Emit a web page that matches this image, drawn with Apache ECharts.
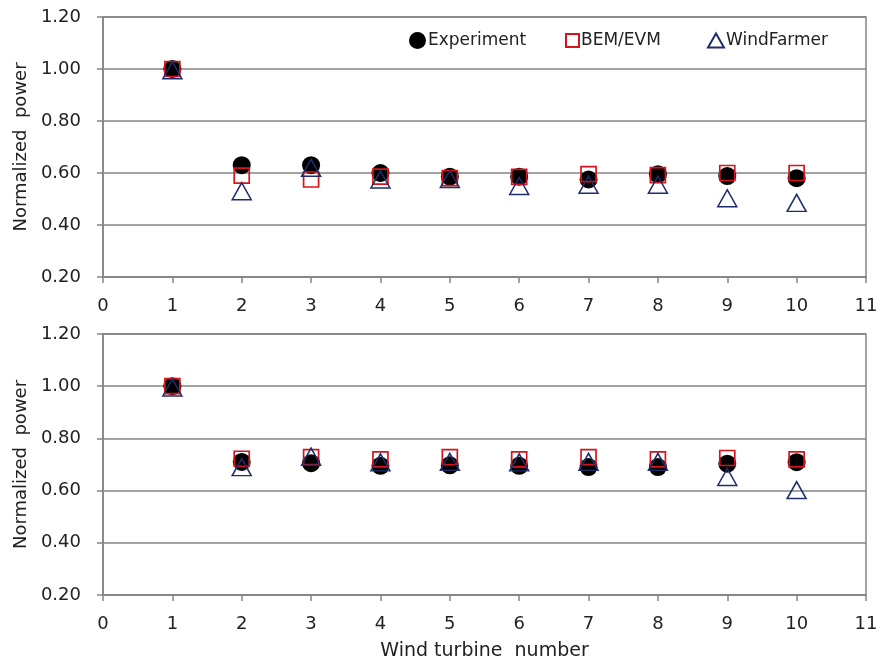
<!DOCTYPE html>
<html>
<head>
<meta charset="utf-8">
<script src="https://cdn.jsdelivr.net/npm/echarts@6/dist/echarts.min.js"></script>
<style>
  html, body { margin: 0; padding: 0; background: #fff; }
  #chart { width: 881px; height: 663px; }
</style>
</head>
<body>
<div id="chart"></div>
<script>
// Turbine positions along the row
const turbines = [1, 2, 3, 4, 5, 6, 7, 8, 9, 10];

// Upper panel: normalized power per turbine
const expTop = [1.00, 0.63, 0.63, 0.60, 0.586, 0.586, 0.575, 0.595, 0.588, 0.58];
const bemTop = [1.00, 0.59, 0.575, 0.586, 0.58, 0.585, 0.596, 0.592, 0.60, 0.60];
const wfTop  = [0.995, 0.53, 0.62, 0.575, 0.577, 0.55, 0.555, 0.555, 0.503, 0.485];

// Lower panel: normalized power per turbine
const expBot = [1.00, 0.71, 0.705, 0.695, 0.697, 0.695, 0.69, 0.69, 0.703, 0.709];
const bemBot = [1.00, 0.722, 0.728, 0.72, 0.728, 0.72, 0.728, 0.72, 0.725, 0.72];
const wfBot  = [0.995, 0.69, 0.73, 0.708, 0.71, 0.708, 0.71, 0.71, 0.652, 0.602];

const seriesNames = ['Experiment', 'BEM/EVM', 'WindFarmer'];
const yTicks = [0.2, 0.4, 0.6, 0.8, 1.0, 1.2];

const FONT = 'DejaVu Sans';
const TXT = '#222';
const GRIDC = '#858585';
const FS = 18;

function pairs(vals) {
  return turbines.map((t, i) => [t, vals[i]]);
}

function xAxis(idx, withName) {
  return {
    gridIndex: idx, type: 'value', min: 0, max: 11, interval: 1,
    axisLine: { show: true, lineStyle: { color: GRIDC, width: 1.5 } },
    axisTick: { show: true, length: 6, lineStyle: { color: GRIDC, width: 1.5 } },
    axisLabel: { color: TXT, fontFamily: FONT, fontSize: FS, margin: 20 },
    splitLine: { show: false },
    name: withName ? 'Wind turbine  number' : '',
    nameLocation: 'middle', nameGap: 47,
    nameTextStyle: { color: TXT, fontFamily: FONT, fontSize: 19 }
  };
}

function yAxis(idx) {
  return {
    gridIndex: idx, type: 'value', min: yTicks[0], max: yTicks[yTicks.length - 1], interval: 0.2,
    axisLine: { show: true, lineStyle: { color: GRIDC, width: 1.5 } },
    axisTick: { show: true, length: 6, lineStyle: { color: GRIDC, width: 1.5 } },
    axisLabel: { color: TXT, fontFamily: FONT, fontSize: FS, margin: 22,
                 formatter: v => v.toFixed(2) },
    splitLine: { show: true, lineStyle: { color: GRIDC, width: 1.5 } },
    name: 'Normalized  power', nameLocation: 'middle', nameGap: 73,
    nameTextStyle: { color: TXT, fontFamily: FONT, fontSize: FS }
  };
}

function panelSeries(idx, e, b, w) {
  return [
    { name: seriesNames[0], type: 'scatter', xAxisIndex: idx, yAxisIndex: idx,
      data: pairs(e), symbol: 'circle', symbolSize: 18,
      itemStyle: { color: '#000', opacity: 1 }, z: 2 },
    { name: seriesNames[1], type: 'scatter', xAxisIndex: idx, yAxisIndex: idx,
      data: pairs(b), symbol: 'rect', symbolSize: 15,
      itemStyle: { color: 'rgba(0,0,0,0)', borderColor: '#d7141e', borderWidth: 1.7, opacity: 1 }, z: 3 },
    { name: seriesNames[2], type: 'scatter', xAxisIndex: idx, yAxisIndex: idx,
      data: pairs(w), symbol: 'triangle', symbolSize: [19, 17],
      itemStyle: { color: 'rgba(0,0,0,0)', borderColor: '#1f2d6b', borderWidth: 1.5, opacity: 1 }, z: 4 }
  ];
}

// one legend entry per component so each key sits at its own spot
function legendEntry(name, icon, left, w, h) {
  return {
    left: left, top: 27, padding: 5, itemWidth: w, itemHeight: h,
    textStyle: { color: TXT, fontFamily: FONT, fontSize: 17, padding: [0, 0, 0, -3] },
    data: [{ name: name, icon: icon }]
  };
}

const chart = echarts.init(document.getElementById('chart'), null, { renderer: 'canvas' });
chart.setOption({
  backgroundColor: '#fff',
  animation: false,
  grid: [
    { left: 103, right: 15, top: 17, height: 260, show: true, borderColor: GRIDC, borderWidth: 1.5 },
    { left: 103, right: 15, top: 334, height: 261, show: true, borderColor: GRIDC, borderWidth: 1.5 }
  ],
  legend: [
    legendEntry(seriesNames[0], 'circle', 404, 17, 17),
    legendEntry(seriesNames[1], 'rect', 560, 13, 13),
    legendEntry(seriesNames[2], 'triangle', 702, 16, 14)
  ],
  xAxis: [xAxis(0, false), xAxis(1, true)],
  yAxis: [yAxis(0), yAxis(1)],
  series: [
    ...panelSeries(0, expTop, bemTop, wfTop),
    ...panelSeries(1, expBot, bemBot, wfBot)
  ]
});
</script>
</body>
</html>
